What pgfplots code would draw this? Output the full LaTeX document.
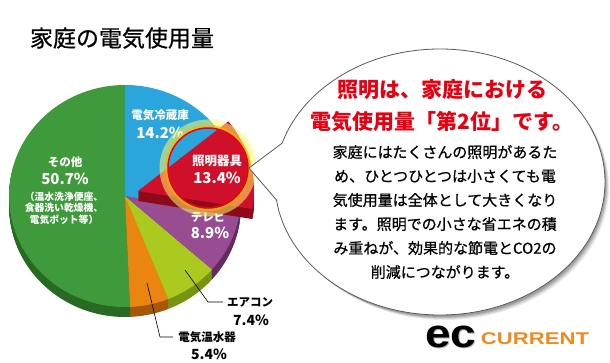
\documentclass[border=0pt]{standalone}
\usepackage{pgfplots}
\pgfplotsset{compat=1.18}
\usepackage{pgfplotstable}
\usepackage{graphicx}
\usepackage{fontspec}
\setmainfont{Noto Sans CJK JP}
\newfontfamily\medfont{Noto Sans CJK JP}[FakeBold=0.6]
\newfontfamily\logofont{Liberation Sans}

% top colours (pc) and side colours (pd): fridge, lighting, TV, AC, water heater, other
\definecolor{pc0}{RGB}{42,166,220}
\definecolor{pd0}{RGB}{25,105,150}
\definecolor{pc1}{RGB}{208,16,42}
\definecolor{pd1}{RGB}{140,10,26}
\definecolor{pc2}{RGB}{152,76,146}
\definecolor{pd2}{RGB}{100,42,96}
\definecolor{pc3}{RGB}{170,202,32}
\definecolor{pd3}{RGB}{118,148,18}
\definecolor{pc4}{RGB}{234,134,16}
\definecolor{pd4}{RGB}{165,88,8}
\definecolor{pc5}{RGB}{62,154,58}
\definecolor{pd5}{RGB}{40,105,36}
\definecolor{hlred}{RGB}{230,0,18}
\definecolor{logoorange}{RGB}{240,138,30}

\pgfplotstableread{
key value
0 14.2
1 13.4
2 8.9
3 7.4
4 5.4
5 50.7
}\piedata

\newcommand\pieslice[5]{% index, cx, cy, colour, end-angle index
  \edef\doit{\noexpand\fill[#4] (axis cs:#2,#3) -- (axis cs:{#2+116*cos(\csname pieS#1\endcsname)},{#3+111*sin(\csname pieS#1\endcsname)}) arc[start angle=\csname pieS#1\endcsname,end angle=\csname pieE#5\endcsname,x radius=116pt,y radius=111pt] -- cycle;}\doit}

\begin{document}
\begin{tikzpicture}
\def\cumsum{0}%
\pgfplotsforeachungrouped \i in {0,...,5}{%
  \pgfplotstablegetelem{\i}{value}\of\piedata
  \let\v\pgfplotsretval
  \pgfmathsetmacro\sa{90-3.6*\cumsum}%
  \pgfmathsetmacro\cumsum{\cumsum+\v}%
  \pgfmathsetmacro\ea{90-3.6*\cumsum}%
  \expandafter\xdef\csname pieS\i\endcsname{\sa}%
  \expandafter\xdef\csname pieE\i\endcsname{\ea}%
}%
\begin{axis}[width=610pt,height=362pt,scale only axis,
  xmin=0,xmax=610,ymin=0,ymax=362,hide axis,clip=false]
% full picture frame (invisible), fixes the bounding box
\path (axis cs:0,0) rectangle (axis cs:610,362);
% title
\node[font=\medfont\fontsize{23}{26}\selectfont] at (axis cs:122,324) {家庭の電気使用量};
% side of pie (3D thickness)
\pgfplotsinvokeforeach{10,9,...,1}{%
  \pieslice{5}{125}{166-#1}{pd5}{5}
  \pieslice{4}{125}{166-#1}{pd4}{4}
  \pieslice{3}{125}{166-#1}{pd3}{3}
  \pieslice{2}{125}{166-#1}{pd2}{2}
  \pieslice{0}{125}{166-#1}{pd0}{1}
}
% top faces
\pieslice{5}{125}{166}{pc5}{5}
\pieslice{4}{125}{166}{pc4}{4}
\pieslice{3}{125}{166}{pc3}{3}
\pieslice{2}{125}{166}{pc2}{2}
\pieslice{0}{125}{166}{pc0}{1}
% labels inside
\begin{scope}[every node/.style={text=white,font=\bfseries,inner sep=0pt}]
\node[font=\fontsize{11.5}{12}\selectfont\bfseries] at (axis cs:160,247) {電気冷蔵庫};
\node[font=\fontsize{15}{16}\selectfont\bfseries] at (axis cs:160,229) {14.2\%};
\node[font=\fontsize{11.5}{12}\selectfont\bfseries] at (axis cs:208,145) {テレビ};
\node[font=\fontsize{15}{16}\selectfont\bfseries] at (axis cs:210,129) {8.9\%};
\node[font=\fontsize{11.5}{12}\selectfont\bfseries] at (axis cs:65,200) {その他};
\node[font=\fontsize{15}{16}\selectfont\bfseries] at (axis cs:65,183) {50.7\%};
\node[font=\fontsize{9.8}{11.5}\selectfont\bfseries,align=center] at (axis cs:64,154) {（温水洗浄便座、\\食器洗い乾燥機、\\電気ポット等）};
\end{scope}
% exploded lighting slice
\pgfplotsinvokeforeach{10,9,...,1}{%
  \pieslice{1}{138}{171-#1}{pd1}{1}
}
\pieslice{1}{138}{171}{pc1}{1}
% highlight circle
\draw[line width=9pt,color=yellow!60!white,opacity=0.55] (axis cs:208,194) circle[radius=44pt];
\draw[line width=3pt,color=orange!60!yellow,opacity=0.6] (axis cs:208,194) circle[radius=41.5pt];
\draw[line width=1.5pt,color=hlred] (axis cs:208,194) circle[radius=40pt];
\node[text=white,font=\fontsize{12.5}{13}\selectfont\bfseries,inner sep=0pt] at (axis cs:217,201) {照明器具};
\node[text=white,font=\fontsize{15}{16}\selectfont\bfseries,inner sep=0pt] at (axis cs:217,184) {13.4\%};
% outside labels and leaders
\draw[black,line width=0.6pt] (axis cs:185,92) -- (axis cs:208,60) -- (axis cs:223,60);
\draw[black,line width=0.6pt] (axis cs:147,79) -- (axis cs:160,25) -- (axis cs:173,25);
\node[font=\fontsize{11.5}{12}\selectfont\bfseries,inner sep=0pt] at (axis cs:250,60) {エアコン};
\node[font=\fontsize{14}{15}\selectfont\bfseries,inner sep=0pt] at (axis cs:251,42) {7.4\%};
\node[font=\fontsize{11.5}{12}\selectfont\bfseries,inner sep=0pt] at (axis cs:207,25) {電気温水器};
\node[font=\fontsize{14}{15}\selectfont\bfseries,inner sep=0pt] at (axis cs:209,8) {5.4\%};
% speech bubble shadow
\fill[black,opacity=0.08] (axis cs:445,175) ellipse[x radius=164pt,y radius=133pt];
\fill[black,opacity=0.10] (axis cs:444,176) ellipse[x radius=164pt,y radius=133pt];
\fill[black,opacity=0.12] (axis cs:443,177) ellipse[x radius=164pt,y radius=133pt];
\fill[black,opacity=0.15] (axis cs:442,178) ellipse[x radius=164pt,y radius=133pt];
% speech bubble
\fill[white] (axis cs:440,180) ellipse[x radius=165pt,y radius=133pt];
\draw[gray!70!black,line width=0.8pt] (axis cs:440,180) ellipse[x radius=165pt,y radius=133pt];
\fill[white] (axis cs:282.3,219) -- (axis cs:249,194) -- (axis cs:276.5,162) -- (axis cs:300,190) -- cycle;
\draw[gray!70!black,line width=0.8pt] (axis cs:282.3,219) -- (axis cs:249,194) -- (axis cs:276.5,162);
% bubble text
\node[text=hlred,font=\fontsize{21}{32}\selectfont\bfseries,align=center,inner sep=0pt] at (axis cs:442,256) {照明は、家庭における\\電気使用量「第2位」です。};
\node[font=\medfont\fontsize{15}{24}\selectfont,align=center,inner sep=0pt] at (axis cs:445,150) {家庭にはたくさんの照明があるた\\め、ひとつひとつは小さくても電\\気使用量は全体として大きくなり\\ます。照明での小さな省エネの積\\み重ねが、効果的な節電とCO2の\\削減につながります。};
% logo
\node[text=gray!60,font=\logofont\fontsize{40}{40}\selectfont\bfseries,inner sep=0pt] at (axis cs:452,24) {\scalebox{1.15}[1]{ec}};
\node[text=black,font=\logofont\fontsize{40}{40}\selectfont\bfseries,inner sep=0pt] at (axis cs:451,25) {\scalebox{1.15}[1]{ec}};
\node[text=logoorange,font=\logofont\fontsize{17}{17}\selectfont\bfseries,inner sep=0pt] at (axis cs:535,23) {\scalebox{1.3}[1]{CURRENT}};
\end{axis}
\end{tikzpicture}
\end{document}
